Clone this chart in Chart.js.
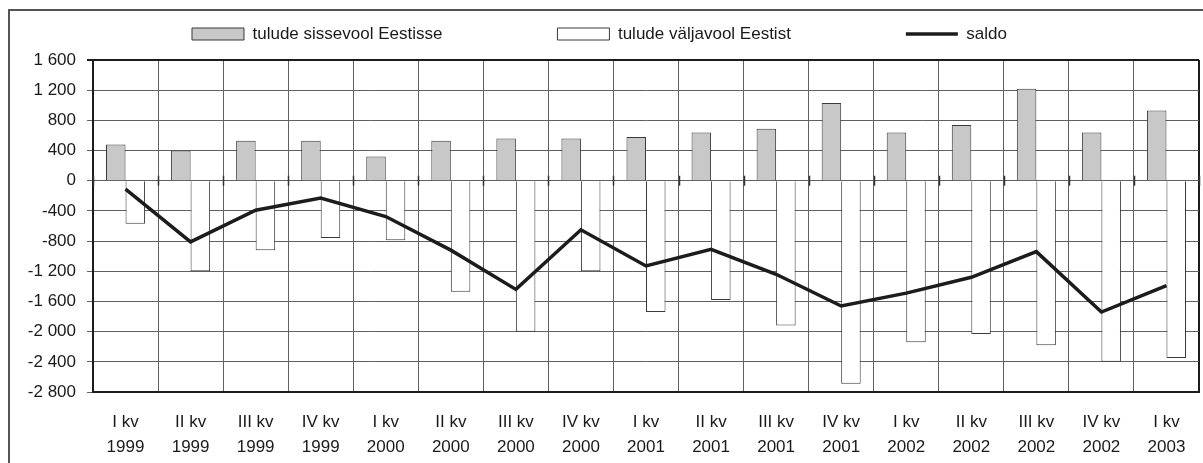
<!DOCTYPE html>
<html lang="et">
<head>
  <meta charset="UTF-8">
  <title>Tulude sisse- ja väljavool</title>
  <script src="https://cdn.jsdelivr.net/npm/chart.js"></script>
  <style>
    html, body { margin: 0; padding: 0; background: #fff; overflow: hidden; }
    .frame {
      position: absolute; left: 8px; top: 9px; width: 1300px; height: 600px;
      border: 2px solid #555;
    }
    .chart-box { position: absolute; left: 0; top: 0; width: 1203px; height: 463px; }
  </style>
</head>
<body>
  <div class="frame"></div>
  <div class="chart-box"><canvas id="tuludChart"></canvas></div>
  <script>
    const quarters = ['I kv', 'II kv', 'III kv', 'IV kv', 'I kv', 'II kv', 'III kv', 'IV kv', 'I kv',
                      'II kv', 'III kv', 'IV kv', 'I kv', 'II kv', 'III kv', 'IV kv', 'I kv'];
    const years = ['1999', '1999', '1999', '1999', '2000', '2000', '2000', '2000', '2001',
                   '2001', '2001', '2001', '2002', '2002', '2002', '2002', '2003'];
    const sissevool = [480, 400, 530, 530, 320, 530, 560, 560, 580, 640, 690, 1030, 640, 740, 1220, 640, 930];
    const valjavool = [-570, -1200, -920, -760, -790, -1470, -2000, -1200, -1740, -1580, -1920, -2690, -2140, -2030, -2180, -2400, -2350];
    const saldo = [-110, -810, -390, -230, -475, -920, -1440, -650, -1130, -910, -1240, -1660, -1490, -1280, -940, -1740, -1390];
    const yMin = -2800, yMax = 1600, yStep = 400;

    const labels = quarters.map((q, i) => [q, years[i]]);
    const fontFam = 'Arial, "Liberation Sans", sans-serif';
    const legendPad = 115;

    // legend: wide gaps between items but keep it in a short band
    const legendBand = {
      id: 'legendBand',
      afterInit(chart) {
        const fit = chart.legend.fit;
        chart.legend.fit = function () { fit.call(this); this.height = 60; };
      },
      afterLayout(chart) {
        chart.legend.top = 25.5 - legendPad;
      }
    };

    // small tick marks where the category axis crosses zero
    const zeroTicks = {
      id: 'zeroTicks',
      afterDraw(chart) {
        const xs = chart.scales.x, ys = chart.scales.y, ctx = chart.ctx;
        const y0 = ys.getPixelForValue(0);
        const step = (xs.right - xs.left) / labels.length;
        ctx.save();
        ctx.strokeStyle = '#333';
        ctx.lineWidth = 1.5;
        for (let i = 0; i <= labels.length; i++) {
          const x = Math.round(xs.left + i * step) + 0.5;
          ctx.beginPath();
          ctx.moveTo(x, y0 - 5);
          ctx.lineTo(x, y0 + 5);
          ctx.stroke();
        }
        ctx.restore();
      }
    };

    function fmt(v) {
      return String(v).replace(/\B(?=(\d{3})+(?!\d))/g, ' ');
    }

    new Chart(document.getElementById('tuludChart'), {
      type: 'bar',
      data: {
        labels: labels,
        datasets: [
          { label: 'tulude sissevool Eestisse', data: sissevool, backgroundColor: '#c8c8c8',
            borderColor: '#3a3a3a', borderWidth: 1, order: 1 },
          { label: 'tulude väljavool Eestist', data: valjavool, backgroundColor: '#fff',
            borderColor: '#3a3a3a', borderWidth: 1, order: 1 },
          { type: 'line', label: 'saldo', data: saldo, borderColor: '#1c1c1c', backgroundColor: '#1c1c1c',
            borderWidth: 3.5, pointRadius: 0, tension: 0, order: 0 }
        ]
      },
      options: {
        responsive: true,
        maintainAspectRatio: false,
        animation: false,
        datasets: { bar: { barPercentage: 1, categoryPercentage: 0.6 } },
        layout: { padding: { left: 0, right: 4, top: 0, bottom: 0 } },
        plugins: {
          tooltip: { enabled: false },
          legend: {
            position: 'top',
            labels: {
              usePointStyle: true,
              pointStyleWidth: 52,
              boxWidth: 52,
              boxHeight: 12,
              padding: legendPad,
              color: '#1a1a1a',
              font: { family: fontFam, size: 17 },
              sort: (a, b) => a.datasetIndex - b.datasetIndex,
              generateLabels(chart) {
                const items = Chart.defaults.plugins.legend.labels.generateLabels(chart);
                items.forEach(it => { it.pointStyle = it.datasetIndex === 2 ? 'line' : 'rect'; });
                return items;
              }
            }
          }
        },
        scales: {
          x: {
            offset: true,
            grid: {
              offset: true,
              drawTicks: false,
              color: ctx => ctx.index === undefined ? '#1c1c1c' : '#606060',
              lineWidth: ctx => ctx.index === undefined ? 2 : 1
            },
            border: { color: '#1c1c1c', width: 2 },
            ticks: {
              color: '#1a1a1a', padding: 17.5, maxRotation: 0, autoSkip: false,
              font: { family: fontFam, size: 17, lineHeight: 1.47 }
            },
            afterFit(scale) { scale.height = 71; }
          },
          y: {
            min: yMin,
            max: yMax,
            grid: {
              color: ctx => ctx.tick && ctx.tick.value === yMax ? '#1c1c1c' : '#606060',
              lineWidth: ctx => ctx.tick && ctx.tick.value === yMax ? 2 : 1,
              tickLength: 6
            },
            border: { color: '#1c1c1c', width: 2 },
            ticks: {
              stepSize: yStep, color: '#1a1a1a', padding: 11,
              font: { family: fontFam, size: 17 },
              callback: v => fmt(v)
            },
            afterFit(scale) { scale.width = 93; }
          }
        }
      },
      plugins: [legendBand, zeroTicks]
    });
  </script>
</body>
</html>
